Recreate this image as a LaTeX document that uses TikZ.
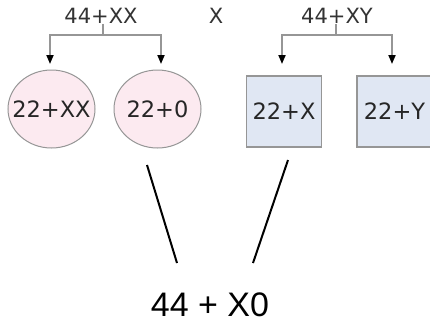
\documentclass[tikz,border=0pt]{standalone}
\usepackage{fontspec}
\setmainfont{DejaVu Sans}
\newfontfamily\bigfont{Liberation Sans}
\usetikzlibrary{shapes.geometric,arrows.meta}
\definecolor{pinkfill}{RGB}{252,234,240}
\definecolor{bluefill}{RGB}{224,231,243}
\definecolor{bordergray}{RGB}{150,150,150}
\definecolor{linegray}{RGB}{150,150,150}
\begin{document}
\begin{tikzpicture}[x=1pt,y=-1pt,
  toplabel/.style={inner sep=0pt,font=\fontsize{21}{21}\selectfont,text=black!80},
  nodetext/.style={inner sep=0pt,font=\fontsize{22.5}{22.5}\selectfont,text=black!85},
  circ/.style={ellipse,draw=bordergray,line width=1pt,fill=pinkfill,minimum width=87pt,minimum height=78pt,inner sep=0pt,label={[nodetext]center:#1}},
  sq/.style={rectangle,draw=bordergray,line width=1.5pt,fill=bluefill,minimum width=75pt,minimum height=71pt,inner sep=0pt,label={[nodetext]center:#1}},
  branch/.style={draw=linegray,line width=1.8pt},
  tip/.style={branch,-{Triangle[length=9pt,width=7pt,color=black,fill=black]}},
  stroke/.style={draw=black,line width=2pt}]
\useasboundingbox (0,0) rectangle (430,325);
\fill[white] (0,0) rectangle (430,325);
% top labels
\node[toplabel] (t1) at (101,16) {44+XX};
\node[toplabel] (tx) at (216,16) {X};
\node[toplabel] (t2) at (337,16) {44+XY};
% children
\node[circ={22+XX}] (c1) at (51.5,109) {};
\node[circ={22+0}] (c2) at (157.5,109) {};
\node[sq={22+X}] (b1) at (284,111.5) {};
\node[sq={22+Y}] (b2) at (394.5,111.5) {};
% branch coordinates
\coordinate (j1) at (103,35);
\coordinate (j2) at (336,35);
\coordinate (a1) at (50,64);
\coordinate (a2) at (161,64);
\coordinate (a3) at (282,64);
\coordinate (a4) at (392,64);
\draw[branch] (t1.south -| j1) -- (j1);
\draw[tip] (j1) -| (a1);
\draw[tip] (j1) -| (a2);
\draw[branch] (t2.south -| j2) -- (j2);
\draw[tip] (j2) -| (a3);
\draw[tip] (j2) -| (a4);
% bottom
\node[inner sep=0pt,font=\bigfont\fontsize{34}{34}\selectfont] (res) at (210,305) {44 + X0};
\coordinate (l1s) at (147,165);
\coordinate (l1e) at (177,263);
\coordinate (l2s) at (288,160);
\coordinate (l2e) at (253,263);
\draw[stroke] (l1s) -- (l1e);
\draw[stroke] (l2s) -- (l2e);
\end{tikzpicture}
\end{document}
